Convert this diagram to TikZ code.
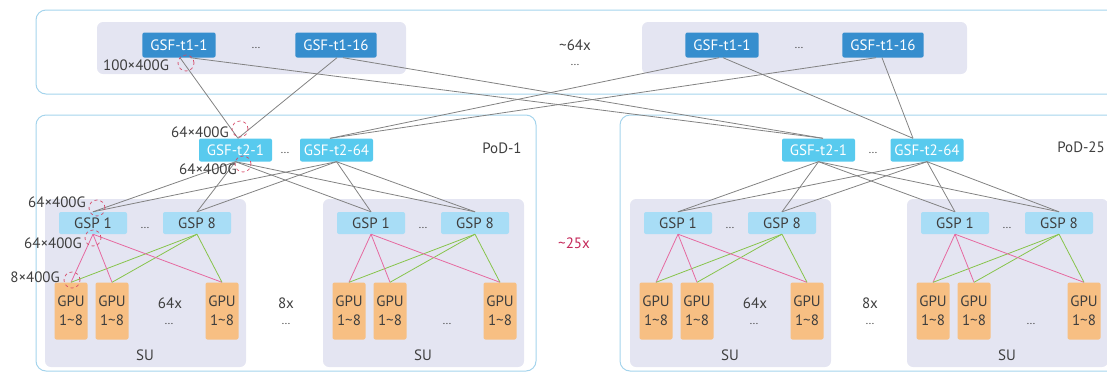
\documentclass[tikz,border=0pt]{standalone}
\usepackage{fontspec}
\setmainfont{PT Sans}
\usepackage{tikz}
\usetikzlibrary{positioning}

\begin{document}
\begin{tikzpicture}[x=1pt,y=-1pt,font=\fontsize{15}{19}\selectfont,
    cadre/.style={draw=cCadre,line width=1pt,rounded corners=10pt},
    panneau/.style={fill=cPanneau,rounded corners=6pt},
    tunbox/.style={fill=cTun,text=white,rounded corners=2pt,minimum height=25pt,inner xsep=8pt,inner ysep=0pt},
    tdeuxbox/.style={fill=cTdeux,text=white,rounded corners=2pt,minimum height=23pt,minimum width=73pt,inner sep=0pt},
    gspbox/.style={fill=cGsp,text=cTexte,rounded corners=2pt,minimum height=22pt,minimum width=68pt,inner sep=0pt},
    gpubox/.style={fill=cGpu,text=cTexte,rounded corners=2pt,minimum height=57pt,minimum width=33pt,inner sep=0pt,align=center},
    lien/.style={draw=cLien,line width=0.8pt},
    lienrose/.style={draw=cRose,line width=0.8pt},
    lienvert/.style={draw=cVert,line width=0.8pt},
    port/.style={draw=cPort,dashed,circle,minimum size=16pt,inner sep=0pt,line width=0.7pt},
    txt/.style={text=cTexte,inner sep=0pt},
    pts/.style={text=cTexte,inner sep=0pt,font=\fontsize{11}{13}\selectfont}]
		% Couleurs
		\definecolor{cCadre}{RGB}{165,212,236}
		\definecolor{cPanneau}{RGB}{228,229,242}
		\definecolor{cTun}{RGB}{54,142,206}
		\definecolor{cTdeux}{RGB}{88,202,238}
		\definecolor{cGsp}{RGB}{168,221,246}
		\definecolor{cGpu}{RGB}{247,191,131}
		\definecolor{cLien}{RGB}{130,130,130}
		\definecolor{cRose}{RGB}{230,105,160}
		\definecolor{cVert}{RGB}{135,196,75}
		\definecolor{cPort}{RGB}{214,72,102}
		\definecolor{cTexte}{RGB}{62,62,62}
		\definecolor{cRouge}{RGB}{196,38,88}
		
		\useasboundingbox (0,0) rectangle (1107,373);
		\clip (0,0) rectangle (1107,373);
		
		% Cadres
		\draw[cadre] (36,10) rectangle (1130,94);
		\draw[cadre] (36,115) rectangle (536,371);
		\draw[cadre] (620,115) rectangle (1130,371);
		
		% Niveau t1
		\fill[panneau] (97,22) rectangle (406,74);
		\fill[panneau] (642,22) rectangle (967,74);
		\node[tunbox] (gt1a) at (179,45) {GSF-t1-1};
		\node[pts] (gpts) at (256,48) {...};
		\node[tunbox] (gt1b) at (336,45) {GSF-t1-16};
		\node[tunbox] (dt1a) at (722,45) {GSF-t1-1};
		\node[pts] (dpts) at (799,48) {...};
		\node[tunbox] (dt1b) at (883,45) {GSF-t1-16};
		\node[txt] (mult64) at (575,45) {\textasciitilde64x};
		\node[pts] (pts64) at (575,65) {...};
		
		% Niveau t2
		\node[tdeuxbox] (pAt2a) at (235.5,150) {GSF-t2-1};
		\node[pts] (pApts) at (285,153) {...};
		\node[tdeuxbox] (pAt2b) at (336.5,150) {GSF-t2-64};
		\node[txt] (pAnom) at (502,148) {PoD-1};
		\node[tdeuxbox] (pBt2a) at (818.5,150) {GSF-t2-1};
		\node[pts] (pBpts) at (873,153) {...};
		\node[tdeuxbox] (pBt2b) at (927,150) {GSF-t2-64};
		\node[txt,anchor=east] (pBnom) at (1105,147) {PoD-25};
		
		% SU
		\foreach \x/\s in {45/a,323/b,630/c,907/d}{
			\fill[panneau] (\x,199) rectangle ++(201,168);
			\node[gspbox] (gsp1\s) at (\x+48,223) {GSP 1};
			\node[pts] (gsppts\s) at (\x+100,228) {...};
			\node[gspbox] (gsp8\s) at (\x+152,223) {GSP 8};
			\node[gpubox] (gpuA\s) at (\x+26,311) {GPU\\1\textasciitilde8};
			\node[gpubox] (gpuB\s) at (\x+67,311) {GPU\\1\textasciitilde8};
			\node[gpubox] (gpuC\s) at (\x+177,311) {GPU\\1\textasciitilde8};
			\node[pts] (gpupts\s) at (\x+124,324) {...};
			\node[txt] (su\s) at (\x+100,355) {SU};
			\foreach \g in {A,B,C}{
				\draw[lienrose] (gsp1\s.south) -- (gpu\g\s.north);
				\draw[lienvert] (gsp8\s.south) -- (gpu\g\s.north);
			}
		}
		\node[txt] (mult64a) at (170,303) {64x};
		\node[txt] (mult64c) at (755,303) {64x};
		\node[txt] (mult8a) at (286,303) {8x};
		\node[pts] (pts8a) at (286,324) {...};
		\node[txt] (mult8c) at (870,303) {8x};
		\node[pts] (pts8c) at (870,324) {...};
		\node[text=cRouge,inner sep=0pt] (mult25) at (574,243) {\textasciitilde25x};
		
		% Liens t1 - t2
		\draw[lien] ([xshift=1pt]gt1a.south) -- ([xshift=2.5pt]pAt2a.north);
		\draw[lien] ([xshift=11pt]gt1a.south) -- ([xshift=4.5pt]pBt2a.north);
		\draw[lien] ([xshift=1pt]gt1b.south) -- ([xshift=2.5pt]pAt2a.north);
		\draw[lien] ([xshift=7pt]gt1b.south) -- ([xshift=4.5pt]pBt2a.north);
		\draw[lien] ([xshift=-3pt]dt1a.south) -- ([xshift=-6.5pt]pAt2b.north);
		\draw[lien] ([xshift=1pt]dt1a.south) -- ([xshift=-14pt]pBt2b.north);
		\draw[lien] ([xshift=-7pt]dt1b.south) -- ([xshift=-6.5pt]pAt2b.north);
		\draw[lien] ([xshift=-1pt]dt1b.south) -- ([xshift=-14pt]pBt2b.north);
		
		% Liens t2 - GSP
		\foreach \t in {a,b}{
			\foreach \g in {gsp1a,gsp8a,gsp1b,gsp8b}
			\draw[lien] (pAt2\t.south) -- (\g.north);
			\foreach \g in {gsp1c,gsp8c,gsp1d,gsp8d}
			\draw[lien] (pBt2\t.south) -- (\g.north);
		}
		
		% Debits
		\node[txt,anchor=west] (bwA) at (103,65) {100×400G};
		\node[port] (portA) at (186,63) {};
		\node[txt,anchor=east] (bwB) at (229,132) {64×400G};
		\node[port] (portB) at (240,129) {};
		\node[txt,anchor=east] (bwC) at (237,169) {64×400G};
		\node[port] (portC) at (243,164) {};
		\node[txt,anchor=east] (bwD) at (86,202) {64×400G};
		\node[port] (portD) at (97,208) {};
		\node[txt,anchor=east] (bwE) at (82,243) {64×400G};
		\node[port] (portE) at (93,238) {};
		\node[txt,anchor=east] (bwF) at (60,277) {8×400G};
		\node[port] (portF) at (72,280) {};
	\end{tikzpicture}
\end{document}
